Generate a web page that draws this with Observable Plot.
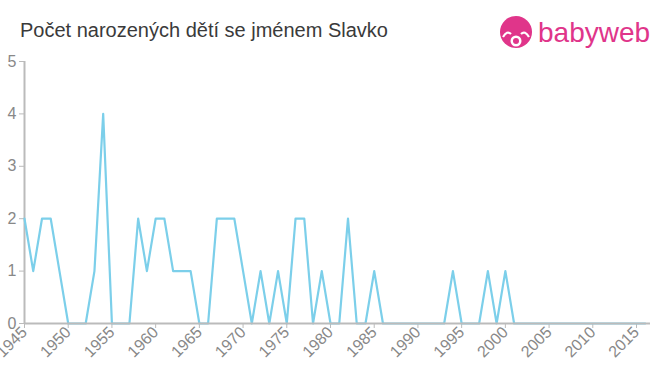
<!DOCTYPE html>
<html><head><meta charset="utf-8">
<script src="https://cdn.jsdelivr.net/npm/d3@7"></script>
<script src="https://cdn.jsdelivr.net/npm/@observablehq/plot@0.6"></script>
<style>
body{margin:0;background:#fff;font-family:"Liberation Sans",Arial,sans-serif;}
#wrap{position:relative;width:660px;height:375px;}
#title{position:absolute;left:20px;top:19px;font-size:20px;color:#3a3a3a;}
#logo{position:absolute;left:498px;top:12px;}
#wrap svg.chart text{font-size:16px;fill:#888;}
</style></head>
<body><div id="wrap"><div id="title">Počet narozených dětí se jménem Slavko</div>
<svg id="logo" width="160" height="40" viewBox="0 0 160 40">
<circle cx="18" cy="20" r="16" fill="#e0358a"/>
<circle cx="18" cy="29" r="5.5" fill="#fff"/>
<circle cx="18" cy="29" r="3" fill="#e0358a"/>
<path d="M5 25 q4 -7 8 -3 M31 25 q-4 -7 -8 -3" stroke="#fff" stroke-width="2.2" fill="none"/>
<text x="40" y="30" font-size="28" fill="#e0358a" font-family="Liberation Sans, Arial">babyweb</text>
</svg></div>
<script>
const years = d3.range(1945, 2017);
const counts = [2,1,2,2,1,0,0,0,1,4, 0,0,0,2,1,2,2,1,1,1, 0,0,2,2,2,1,0,1,0,1, 0,2,2,0,1,0,0,2,0,0, 1,0,0,0,0,0,0,0,0,1, 0,0,0,1,0,1,0,0,0,0, 0,0,0,0,0,0,0,0,0,0, 0,0];
const xTicks = d3.range(1945, 2016, 5);
const yTicks = [0,1,2,3,4,5];
const data = years.map((y,i)=>({year:y, count:counts[i]}));
const chart = Plot.plot({
  width:660, height:375,
  marginLeft:24, marginRight:10, marginTop:61, marginBottom:52,
  className:"chart",
  style:{fontFamily:"Liberation Sans, Arial, sans-serif", background:"transparent"},
  x:{domain:[1945,2016.6]},
  y:{domain:[0,5]},
  marks:[
    Plot.axisY({ticks:yTicks, tickSize:5, tickPadding:3, label:null, stroke:"#bbb", tickFormat:d=>d}),
    Plot.ruleX([1945],{stroke:"#bbb", strokeWidth:2}),
    Plot.axisX({ticks:xTicks, tickSize:5, tickRotate:-45, tickPadding:1, label:null, stroke:"#bbb", tickFormat:d=>String(d)}),
    Plot.line(data,{x:"year", y:"count", stroke:"#7ccfea", strokeWidth:2.2}),
    Plot.ruleY([0],{stroke:"#bbb", strokeWidth:2})
  ]
});
chart.classList.add("chart");
chart.style.position="absolute"; chart.style.left="0"; chart.style.top="0";
document.getElementById("wrap").prepend(chart);
</script></body></html>
